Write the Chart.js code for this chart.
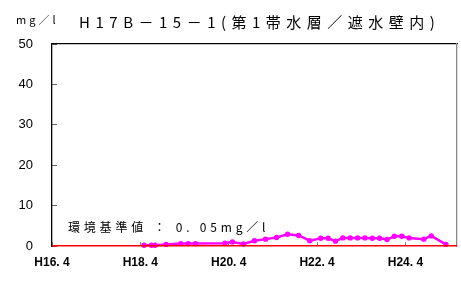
<!DOCTYPE html>
<html>
<head>
<meta charset="utf-8">
<script src="https://cdn.jsdelivr.net/npm/chart.js@4/dist/chart.umd.min.js"></script>
<style>body{margin:0;background:#fff}</style>
</head>
<body>
<canvas id="c" width="461" height="282"></canvas>
<script>
// months counted from H16.4
const months = [25,27,28,31,35,37,39,47,49,52,55,58,61,64,67,70,73,75,77,79,81,83,85,87,89,91,93,95,97,101,103,107];
const values = [0.2,0.2,0.2,0.4,0.6,0.6,0.6,0.7,1.0,0.5,1.3,1.7,2.1,2.9,2.6,1.3,1.9,1.9,1.2,2.0,2.0,2.0,2.0,1.9,1.9,1.6,2.4,2.4,2.0,1.7,2.5,0.4];
const xTicks = [0, 24, 48, 72, 96];
const xTickLabels = ['H16. 4', 'H18. 4', 'H20. 4', 'H22. 4', 'H24. 4'];
const limitX = [0, 110];
const limitValue = 0.05;
const titleText = 'H17B－15－1(第1帯水層／遮水壁内)';
const unitText = 'mg／l';
const limitText = '環境基準値 ： 0. 05mg／l';

const ctxEl = document.getElementById('c');

// text with extra space between characters
function spaced(ctx, text, x, y, sp, center) {
	const chars = Array.from(text);
	let total = 0;
	chars.forEach(c => { total += ctx.measureText(c).width; });
	total += sp * (chars.length - 1);
	let px = center ? x - total / 2 : x;
	ctx.textAlign = 'left';
	chars.forEach(c => {
		ctx.fillText(c, px, y);
		px += ctx.measureText(c).width + sp;
	});
}

const labels = {
	id: 'labels',
	afterDraw(chart) {
		const ctx = chart.ctx;
		const a = chart.chartArea;
		ctx.save();
		ctx.fillStyle = '#000';
		ctx.textBaseline = 'middle';
		ctx.font = '15px "Noto Sans CJK JP"';
		spaced(ctx, titleText, 257, 22, 5.5, true);
		ctx.font = '11px "Noto Sans CJK JP"';
		spaced(ctx, unitText, 16, 20, 3, false);
		ctx.font = '12px "Noto Sans CJK JP"';
		spaced(ctx, limitText, a.left + 16, a.bottom - 19, 3.8, false);
		ctx.restore();
	}
};

new Chart(ctxEl, {
	type: 'line',
	data: {
		datasets: [{
			data: limitX.map(v => ({x: v, y: limitValue})),
			borderColor: '#ff0000',
			borderWidth: 1.6,
			pointRadius: 0,
			clip: 4
		}, {
			data: months.map((m, i) => ({x: m, y: values[i]})),
			borderColor: '#ff00ff',
			backgroundColor: '#ff00ff',
			borderWidth: 2.5,
			pointRadius: 2.7,
			pointBorderWidth: 0,
			tension: 0,
			clip: 4
		}]
	},
	options: {
		responsive: false,
		animation: false,
		layout: {padding: {top: 44, right: 2, left: 0, bottom: 0}},
		plugins: {legend: {display: false}, tooltip: {enabled: false}},
		scales: {
			x: {
				type: 'linear',
				min: 0,
				max: 110,
				afterBuildTicks: s => { s.ticks = xTicks.map(v => ({value: v})); },
				afterFit: s => { s.height = 36; s.paddingLeft = 0; s.paddingRight = 0; },
				grid: {display: true, drawOnChartArea: false, drawTicks: true, tickLength: -4, color: '#888888', lineWidth: 1},
				border: {display: false},
				ticks: {
					padding: 13,
					maxRotation: 0,
					autoSkip: false,
					color: '#000',
					font: {family: 'Liberation Sans', size: 12, weight: 'bold'},
					callback: (v, i) => xTickLabels[i]
				}
			},
			xTop: {
				type: 'linear',
				position: 'top',
				min: 0,
				max: 110,
				afterFit: s => { s.height = 0; s.paddingLeft = 0; s.paddingRight = 0; },
				grid: {display: false, drawTicks: false},
				border: {display: true, color: '#000000', width: 1.3},
				ticks: {display: false}
			},
			y: {
				min: 0,
				max: 50,
				afterFit: s => { s.width = 52; },
				grid: {display: true, drawOnChartArea: false, drawTicks: true, tickLength: -5, color: '#666666', lineWidth: 1},
				border: {display: true, color: '#000000', width: 1.3},
				ticks: {
					stepSize: 10,
					padding: 24,
					color: '#000',
					font: {family: 'Liberation Sans', size: 13}
				}
			},
			yRight: {
				position: 'right',
				min: 0,
				max: 50,
				afterFit: s => { s.width = 0; },
				grid: {display: false, drawTicks: false},
				border: {display: true, color: '#8a8a8a', width: 1.3},
				ticks: {display: false}
			}
		}
	},
	plugins: [labels]
});
</script>
</body>
</html>
